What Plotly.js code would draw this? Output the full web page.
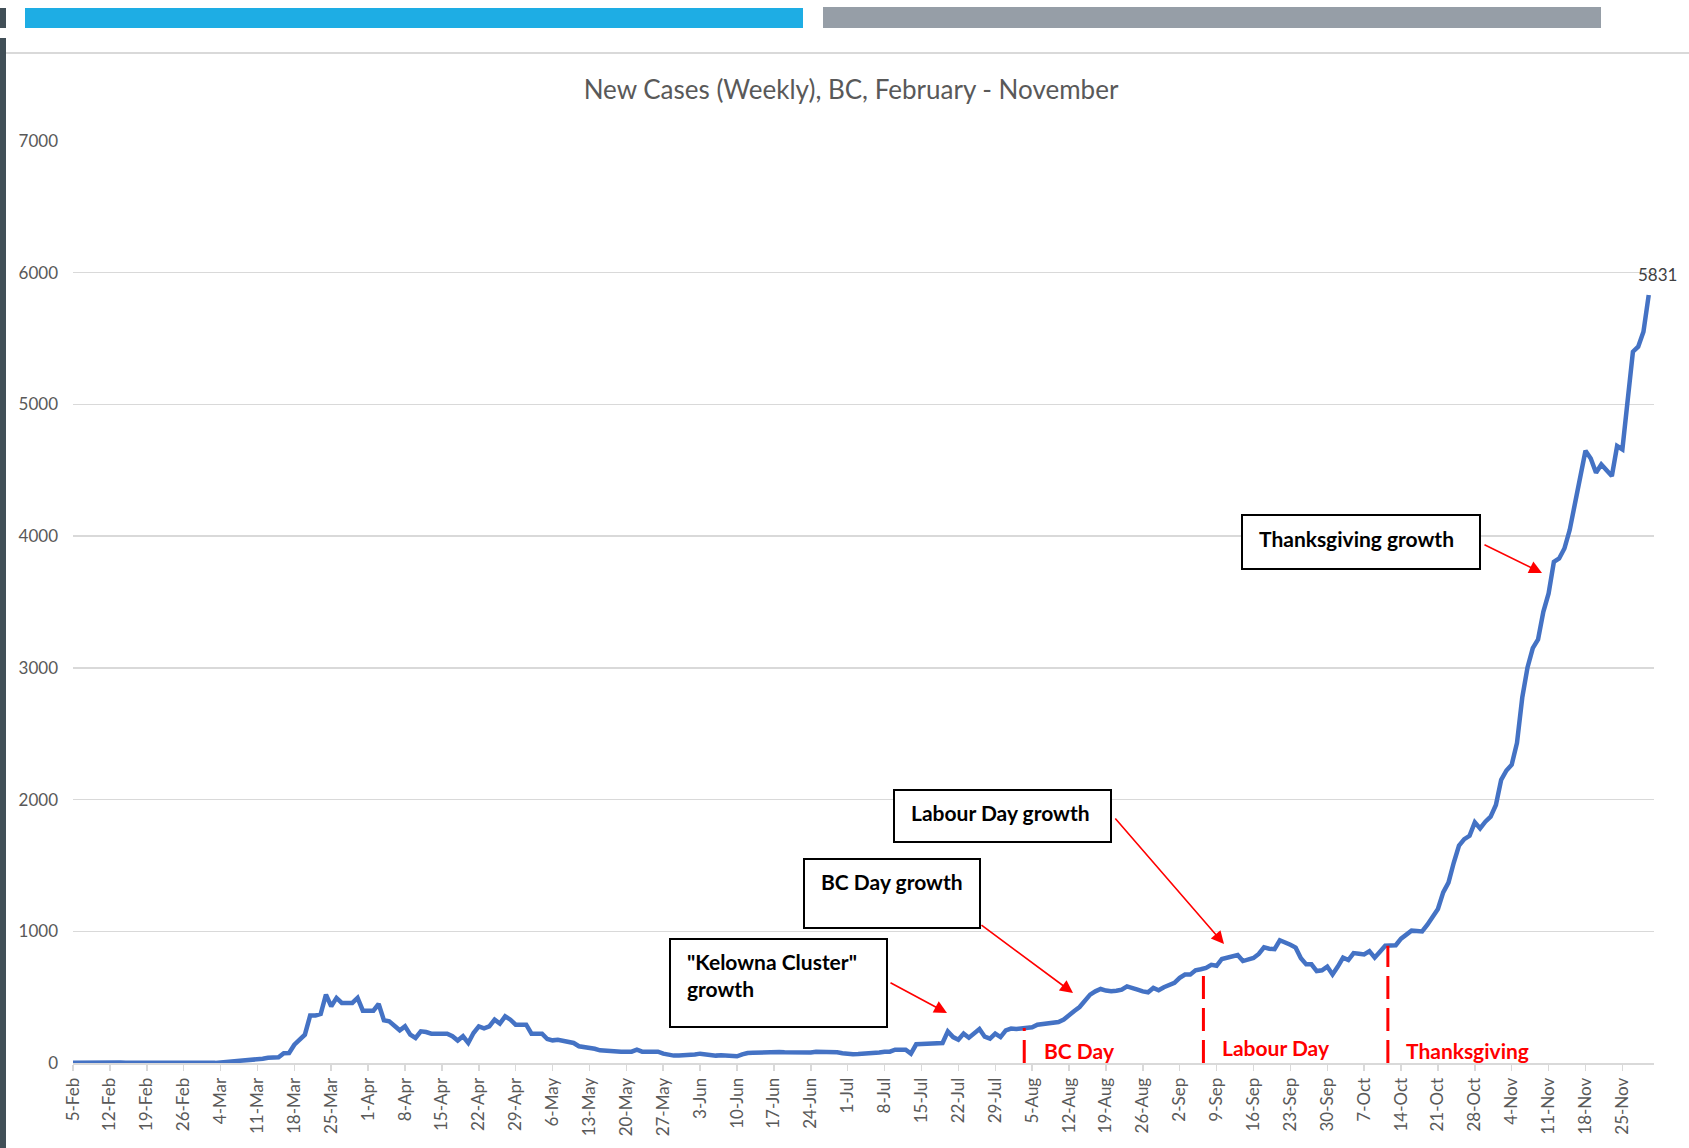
<!DOCTYPE html>
<html>
<head>
<meta charset="utf-8">
<script src="https://cdn.plot.ly/plotly-3.0.1.min.js"></script>
<style>
  html, body { margin: 0; padding: 0; background: #ffffff; }
  #wrap { position: relative; width: 1689px; height: 1148px; overflow: hidden; }
  #chart { position: absolute; left: 0; top: 0; width: 1689px; height: 1148px; }
  .deco { position: absolute; }
</style>
</head>
<body>
<div id="wrap">
  <div id="chart"></div>
  <div class="deco" style="left:0;top:8px;width:6px;height:20px;background:#414f57;"></div>
  <div class="deco" style="left:25px;top:8px;width:778px;height:20px;background:#1eade4;"></div>
  <div class="deco" style="left:823px;top:7px;width:778px;height:21px;background:#969ea7;"></div>
  <div class="deco" style="left:0;top:38px;width:6px;height:1110px;background:#414f57;"></div>
  <div class="deco" style="left:6px;top:52px;width:1683px;height:2px;background:#d9d9d9;"></div>
</div>
<script>
// ---------- DATA ----------
const startDate = '2020-02-05';
// 7-day rolling new cases, one value per day from 5-Feb to 30-Nov
const weeklyCases = [
  1,2,3,3,3,4,4,
  4,4,3,2,1,1,1,
  1,1,1,1,1,2,3,
  3,2,2,3,3,2,1,
  4,7,9,10,13,16,21,
  25,32,40,43,43,74,76,
  139,182,215,360,360,372,519,
  430,494,456,456,456,494,397,
  397,397,448,324,316,284,248,
  278,215,190,240,235,223,223,
  223,223,203,170,203,152,228,
  278,263,278,329,299,354,329,
  291,291,291,223,223,223,182,
  172,177,170,160,152,127,123,
  119,108,96,92,90,88,86,
  86,86,101,86,86,86,86,
  71,62,56,56,56,56,64,
  71,64,56,56,58,55,51,
  51,65,76,78,80,81,84,
  86,84,81,80,78,77,76,
  80,86,86,84,82,81,74,
  66,66,68,70,71,71,80,
  86,86,101,101,101,71,142,
  144,147,149,150,152,240,197,
  177,223,192,225,258,200,185,
  223,197,248,261,258,262,266,
  271,291,295,299,303,311,330,
  367,395,425,470,519,544,562,
  550,544,548,557,582,565,557,
  544,537,570,552,575,595,608,
  646,671,671,704,712,722,745,
  738,790,800,810,820,774,786,
  797,828,878,868,864,932,918,
  898,876,796,749,749,698,704,
  732,672,732,800,782,835,830,
  824,849,800,845,890,893,894,
  944,975,1005,1003,999,1050,1114,
  1170,1295,1370,1520,1650,1700,1725,
  1827,1781,1832,1870,1959,2150,2221,
  2265,2430,2774,3003,3150,3215,3425,
  3565,3805,3830,3906,4046,4235,4425,
  4648,4590,4481,4544,4501,4456,4684,
  4658,5030,5400,5438,5552,5831
];
const tickLabels = ['5-Feb','12-Feb','19-Feb','26-Feb','4-Mar','11-Mar','18-Mar','25-Mar','1-Apr','8-Apr',
  '15-Apr','22-Apr','29-Apr','6-May','13-May','20-May','27-May','3-Jun','10-Jun','17-Jun','24-Jun',
  '1-Jul','8-Jul','15-Jul','22-Jul','29-Jul','5-Aug','12-Aug','19-Aug','26-Aug','2-Sep','9-Sep',
  '16-Sep','23-Sep','30-Sep','7-Oct','14-Oct','21-Oct','28-Oct','4-Nov','11-Nov','18-Nov','25-Nov'];
const yTicks = [0,1000,2000,3000,4000,5000,6000,7000];
// holiday markers: date, label, height of the marker line (cases)
const holidayDates  = ['2020-08-03 12:00','2020-09-06 12:00','2020-10-11 12:00'];
const holidayLabels = ['BC Day','Labour Day','Thanksgiving'];
const holidayTops   = [265, 680, 890];
const calloutTexts = ['"Kelowna Cluster"<br>growth','BC Day growth','Labour Day growth','Thanksgiving growth'];

// ---------- BUILD ----------
const DAY = 86400000;
const t0 = Date.parse(startDate + 'T00:00:00Z');
const dates = weeklyCases.map((_, i) => new Date(t0 + i * DAY).toISOString().slice(0, 10));
const tickVals = tickLabels.map((_, i) => dates[i * 7]);

const W = 1689, H = 1148;
const M = {l: 73, r: 35, t: 141, b: 85};
const PW = W - M.l - M.r, PH = H - M.t - M.b;
const px = x => (x - M.l) / PW;
const py = y => (H - M.b - y) / PH;

const FONT = 'Lato, "Liberation Sans", sans-serif';
const RED = '#ff0000';

const shapes = [];
const annotations = [];

// holiday dashed lines + labels
const labelPos = [[1042, 1050], [1220, 1047], [1404, 1050]];
holidayDates.forEach((d, i) => {
  shapes.push({type: 'line', xref: 'x', yref: 'y', x0: d, x1: d, y0: 0, y1: holidayTops[i],
    line: {color: RED, width: 3, dash: '23px,9px'}, layer: 'above'});
  annotations.push({xref: 'paper', yref: 'paper', x: px(labelPos[i][0]), y: py(labelPos[i][1]),
    xanchor: 'left', yanchor: 'middle', showarrow: false, text: holidayLabels[i],
    font: {family: FONT, size: 21, color: RED, weight: 'bold'}});
});

// callout boxes [x0,y0,x1,y1] in pixels, text anchor, arrow tail & tip
const boxes = [
  {r: [670, 939, 887, 1027], t: [685, 975], tail: [889, 982], tip: [947, 1013]},
  {r: [804, 859, 980, 928], t: [819, 882], tail: [980, 924], tip: [1073, 993]},
  {r: [894, 790, 1111, 842], t: [909, 812], tail: [1114, 817], tip: [1224, 944]},
  {r: [1242, 515, 1480, 569], t: [1257, 538], tail: [1483, 544], tip: [1542, 573]}
];
boxes.forEach((b, i) => {
  shapes.push({type: 'rect', xref: 'paper', yref: 'paper', x0: px(b.r[0]), x1: px(b.r[2]),
    y0: py(b.r[3]), y1: py(b.r[1]), line: {color: '#000000', width: 2}, fillcolor: '#ffffff', layer: 'above'});
  annotations.push({xref: 'paper', yref: 'paper', x: px(b.t[0]), y: py(b.t[1]),
    xanchor: 'left', yanchor: 'middle', align: 'left', showarrow: false,
    text: calloutTexts[i], font: {family: FONT, size: 21, color: '#000000', weight: 'bold'}});
  annotations.push({xref: 'paper', yref: 'paper', x: px(b.tip[0]), y: py(b.tip[1]),
    ax: b.tail[0] - b.tip[0], ay: b.tail[1] - b.tip[1], axref: 'pixel', ayref: 'pixel',
    text: '', showarrow: true, arrowhead: 2, arrowsize: 1.6, arrowwidth: 1.6, arrowcolor: RED, standoff: 0});
});

// last value label
annotations.push({xref: 'x', yref: 'y', x: dates[dates.length - 1], y: weeklyCases[weeklyCases.length - 1],
  text: String(weeklyCases[weeklyCases.length - 1]), showarrow: false, xanchor: 'center', yanchor: 'bottom',
  xshift: 9, yshift: 8, font: {family: FONT, size: 17, color: '#404040'}});

const trace = {
  x: dates, y: weeklyCases, type: 'scatter', mode: 'lines',
  line: {color: '#4472c4', width: 4.5}, hoverinfo: 'skip'
};

const layout = {
  width: W, height: H,
  margin: M,
  paper_bgcolor: 'rgba(0,0,0,0)', plot_bgcolor: 'rgba(0,0,0,0)',
  showlegend: false,
  font: {family: FONT, color: '#595959'},
  title: {text: 'New Cases (Weekly), BC, February - November', x: 851 / W, xref: 'container', xanchor: 'center',
    y: 1 - 90 / H, yref: 'container', yanchor: 'middle', font: {family: FONT, size: 26, color: '#595959'}},
  xaxis: {type: 'date', range: ['2020-02-05', '2020-12-01'], tickmode: 'array', tickvals: tickVals, ticktext: tickLabels,
    tickangle: -90, ticks: 'outside', ticklen: 6, tickcolor: '#d9d9d9', tickwidth: 1.5,
    showgrid: false, showline: true, linecolor: '#d9d9d9', linewidth: 2, zeroline: false,
    tickfont: {family: FONT, size: 17, color: '#595959'}},
  yaxis: {range: [0, 7000], tickmode: 'array', tickvals: yTicks, showgrid: true, gridcolor: '#d9d9d9', gridwidth: 1.5,
    zeroline: false, showline: false, ticks: '', ticklabelstandoff: 14,
    tickfont: {family: FONT, size: 17, color: '#595959'}},
  shapes: shapes,
  annotations: annotations
};

Plotly.newPlot('chart', [trace], layout, {displayModeBar: false, staticPlot: true});
</script>
</body>
</html>
